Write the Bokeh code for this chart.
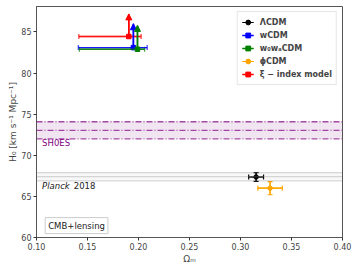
from bokeh.plotting import figure
from bokeh.models import (ColumnDataSource, Whisker, TeeHead, Arrow, NormalHead, Span,
                          BoxAnnotation, Label, Legend, LegendItem, FixedTicker)
from bokeh.embed import file_html
from bokeh.resources import INLINE

# ---- data ----
models = ["ΛCDM", "wCDM", "w₀wₐCDM", "ϕCDM", "ξ − index model"]
colors = ["black", "blue", "green", "orange", "red"]

# two-sided points (ΛCDM, ϕCDM)
pt_names = ["ΛCDM", "ϕCDM"]
pt_om = [0.3153, 0.329]
pt_om_err = [0.0073, 0.012]
pt_h0 = [67.36, 66.0]
pt_h0_err = [0.54, 0.8]
pt_colors = ["black", "orange"]

# lower-limit points (wCDM, w0waCDM, xi-index)
ll_names = ["wCDM", "w₀wₐCDM", "ξ − index model"]
ll_om = [0.195, 0.199, 0.1905]
ll_om_lo = [0.141, 0.142, 0.1415]
ll_om_hi = [0.2085, 0.206, 0.2026]
ll_h0 = [83.1, 82.9, 84.45]
ll_h0_top = [86.0, 85.8, 87.2]
ll_colors = ["blue", "green", "red"]

shoes_h0, shoes_err = 73.04, 1.04
planck_h0, planck_err = 67.4, 0.5

x_ticks = [0.10, 0.15, 0.20, 0.25, 0.30, 0.35, 0.40]
y_ticks = [60, 65, 70, 75, 80, 85]

FONT = "DejaVu Sans"

p = figure(width=357, height=268, x_range=(0.10, 0.40), y_range=(60, 88.1),
           output_backend="svg", toolbar_location=None,
           min_border_left=36, min_border_right=15, min_border_top=6, min_border_bottom=31)
p.grid.visible = False
p.outline_line_color = "#555555"
p.background_fill_color = "white"

# axes
for ax in (p.xaxis[0], p.yaxis[0]):
    ax.major_tick_out = 3
    ax.major_tick_in = 0
    ax.minor_tick_out = 0
    ax.minor_tick_in = 0
    ax.major_label_standoff = 2
    ax.axis_label_standoff = 1
    ax.major_label_text_font = FONT
    ax.major_label_text_font_size = "8px"
    ax.axis_label_text_font = FONT
    ax.axis_label_text_font_size = "9px"
    ax.axis_label_text_font_style = "normal"
    ax.axis_line_color = "#555555"
    ax.major_tick_line_color = "#333333"
p.yaxis.axis_label_standoff = 0
p.xaxis.ticker = FixedTicker(ticks=x_ticks)
p.yaxis.ticker = FixedTicker(ticks=y_ticks)
p.xaxis.major_label_overrides = {t: f"{t:.2f}" for t in x_ticks}
p.xaxis.axis_label = "Ωₘ"
p.yaxis.axis_label = "H₀ [km s⁻¹ Mpc⁻¹]"

# SH0ES band
p.add_layout(BoxAnnotation(bottom=shoes_h0 - shoes_err, top=shoes_h0 + shoes_err,
                           fill_color="purple", fill_alpha=0.1, line_alpha=0))
for v in (shoes_h0 - shoes_err, shoes_h0, shoes_h0 + shoes_err):
    p.add_layout(Span(location=v, dimension="width", line_color="purple", line_alpha=0.7,
                      line_width=1.3, line_dash="6 2 1 2"))
# Planck band
p.add_layout(BoxAnnotation(bottom=planck_h0 - planck_err, top=planck_h0 + planck_err,
                           fill_color="gray", fill_alpha=0.06, line_alpha=0))
for v in (planck_h0 - planck_err, planck_h0, planck_h0 + planck_err):
    p.add_layout(Span(location=v, dimension="width", line_color="gray", line_alpha=0.6,
                      line_width=1.2, line_dash="1 1"))

p.add_layout(Label(x=0.1055, y=71.45, text="SH0ES", text_color="purple",
                   text_font=FONT, text_font_size="8.5px", text_baseline="middle"))
p.add_layout(Label(x=0.1055, y=66.3, text="Planck", text_color="#222222", text_font_style="italic",
                   text_font=FONT, text_font_size="8.5px", text_baseline="middle"))
p.add_layout(Label(x=0.1365, y=66.3, text="2018", text_color="#222222",
                   text_font=FONT, text_font_size="8.5px", text_baseline="middle"))
p.add_layout(Label(x=0.1085, y=61.45, text="CMB+lensing", text_color="#222222",
                   text_font=FONT, text_font_size="8.5px", text_baseline="middle",
                   background_fill_color="white", border_line_color="#cccccc",
                   padding=3))

items = {}
# two-sided points
for i in range(len(pt_names)):
    c = pt_colors[i]
    src = ColumnDataSource(dict(x=[pt_om[i]], y=[pt_h0[i]],
                                xl=[pt_om[i] - pt_om_err[i]], xu=[pt_om[i] + pt_om_err[i]],
                                yl=[pt_h0[i] - pt_h0_err[i]], yu=[pt_h0[i] + pt_h0_err[i]]))
    seg_h = p.segment(x0="xl", x1="xu", y0="y", y1="y", source=src, line_color=c, line_width=1.2)
    seg_v = p.segment(x0="x", x1="x", y0="yl", y1="yu", source=src, line_color=c, line_width=1.2)
    p.add_layout(Whisker(base="y", lower="xl", upper="xu", dimension="width", source=src,
                         line_color=c, line_width=1.2,
                         upper_head=TeeHead(size=5, line_color=c, line_width=1.2),
                         lower_head=TeeHead(size=5, line_color=c, line_width=1.2)))
    p.add_layout(Whisker(base="x", lower="yl", upper="yu", dimension="height", source=src,
                         line_color=c, line_width=1.2,
                         upper_head=TeeHead(size=5, line_color=c, line_width=1.2),
                         lower_head=TeeHead(size=5, line_color=c, line_width=1.2)))
    sc = p.scatter(x="x", y="y", source=src, marker="circle", size=4.5, color=c)
    items[pt_names[i]] = [seg_v, sc]

# lower-limit points
for i in range(len(ll_names)):
    c = ll_colors[i]
    src = ColumnDataSource(dict(x=[ll_om[i]], y=[ll_h0[i]], xl=[ll_om_lo[i]], xu=[ll_om_hi[i]],
                                yt=[ll_h0_top[i]]))
    seg_h = p.segment(x0="xl", x1="xu", y0="y", y1="y", source=src, line_color=c, line_width=1.3,
                      line_alpha=0.7)
    p.add_layout(Whisker(base="y", lower="xl", upper="xu", dimension="width", source=src,
                         line_color=c, line_width=1.3, line_alpha=0.7,
                         upper_head=TeeHead(size=5, line_color=c, line_width=1.3, line_alpha=0.7),
                         lower_head=TeeHead(size=5, line_color=c, line_width=1.3, line_alpha=0.7)))
    seg_v = p.segment(x0="x", x1="x", y0="y", y1="yt", source=src, line_color=c, line_width=1.5)
    p.add_layout(Arrow(x_start="x", y_start="y", x_end="x", y_end="yt", source=src,
                       line_color=c, line_width=1.5,
                       end=NormalHead(size=6, fill_color=c, line_color=c)))
    sc = p.scatter(x="x", y="y", source=src, marker="square", size=4.5, color=c)
    items[ll_names[i]] = [seg_v, sc]

legend = Legend(items=[LegendItem(label=m, renderers=items[m]) for m in models],
                location="top_right", margin=5, padding=4, spacing=1,
                label_text_font=FONT, label_text_font_size="8px", label_text_font_style="bold",
                label_height=12, glyph_height=12, glyph_width=12, label_standoff=6,
                border_line_color="#cccccc", border_line_width=1,
                background_fill_alpha=0.9)
p.add_layout(legend)

open("out.html", "w").write(file_html(p, INLINE))
